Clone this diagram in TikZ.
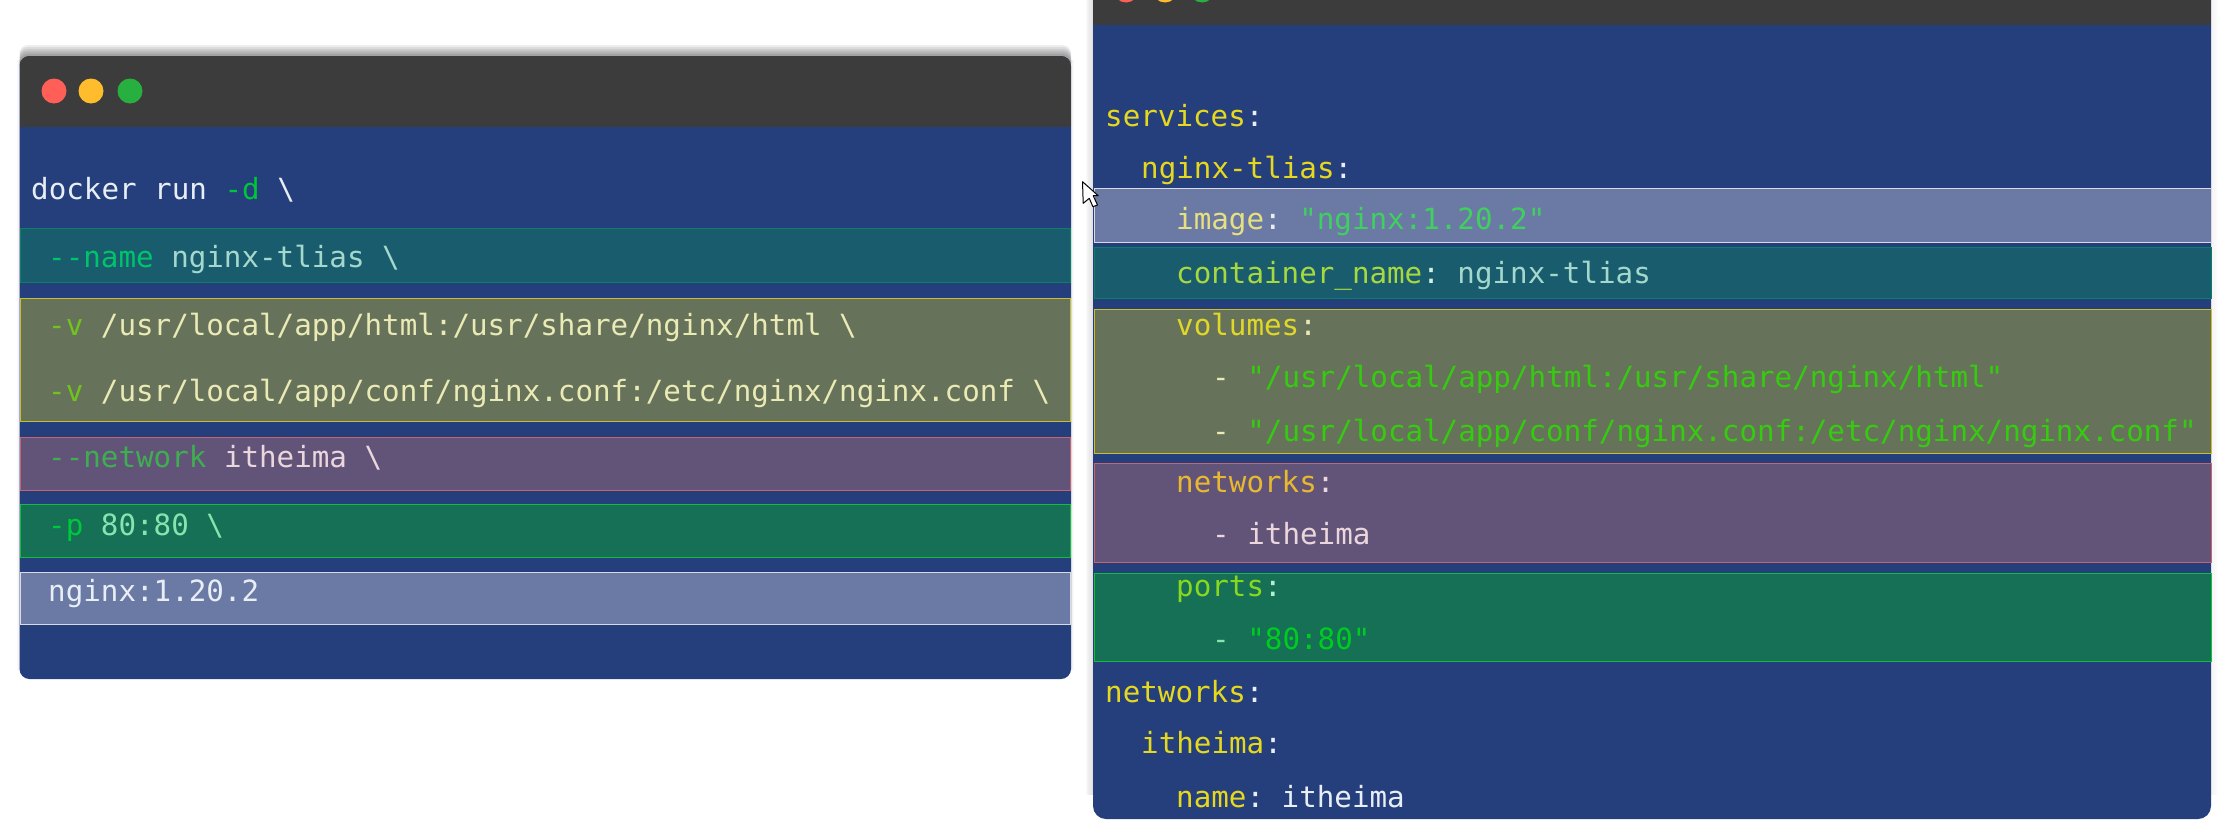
\documentclass[tikz,border=0pt]{standalone}
\usepackage{fontspec}
\setmonofont{DejaVu Sans Mono}
\usepackage{tikz}
\definecolor{navy}{HTML}{243F7C}
\definecolor{titlebar}{HTML}{3C3C3C}
\definecolor{dotred}{HTML}{FF5F56}
\definecolor{dotamber}{HTML}{FFBD2E}
\definecolor{dotgreen}{HTML}{27B03F}
\definecolor{colonwhite}{HTML}{E8EEF5}
\definecolor{tealedge}{HTML}{0A8064}
\definecolor{tealfill}{HTML}{195C6D}
\definecolor{yellowedge}{HTML}{C8BE2E}
\definecolor{yellowfill}{HTML}{67725A}
\definecolor{rededge}{HTML}{C9636F}
\definecolor{redfill}{HTML}{625478}
\definecolor{greenedge}{HTML}{12BE3C}
\definecolor{greenfill}{HTML}{157055}
\definecolor{whiteedge}{HTML}{D8DBE4}
\definecolor{whitefill}{HTML}{6B7AA5}
\tikzset{
    win/.style={fill=navy, rounded corners=10pt},
    bar/.style={rectangle, draw, line width=1.2pt, inner sep=0pt, anchor=north west},
    tealbar/.style={bar, draw=tealedge, fill=tealfill},
    yellowbar/.style={bar, draw=yellowedge, fill=yellowfill},
    redbar/.style={bar, draw=rededge, fill=redfill},
    greenbar/.style={bar, draw=greenedge, fill=greenfill},
    whitebar/.style={bar, draw=whiteedge, fill=whitefill},
    code/.style={anchor=base west, inner sep=0pt, yshift=-1.5pt, text=colonwhite, font=\ttfamily\fontsize{29.2}{32}\selectfont},
    dot/.style={circle, inner sep=0pt, minimum size=25pt}
}
\newcommand{\tc}[2]{\textcolor[HTML]{#1}{#2}}
\newcommand{\rowbar}[5]{\node[#1, minimum width=#3pt, minimum height=#5pt] (#2) at (#4) {};}
\begin{document}
\begin{tikzpicture}[x=1pt, y=-1pt]
    \useasboundingbox (0,0) rectangle (2223,819);
    \fill[white] (0,0) rectangle (2223,819);

    % soft shadows
    \foreach \g in {1,...,6} {
        \fill[black, opacity=0.07, rounded corners=8pt] (19.5,56-1.8*\g) rectangle (1071,72);
        \fill[black, opacity=0.012] (19.5-0.5*\g,60) rectangle (1071+0.5*\g,670);
        \fill[black, opacity=0.018] (1093-1.2*\g,-40) rectangle (1500,795);
        \fill[black, opacity=0.008] (1900,-40) rectangle (2211+1.2*\g,795);
    }

    % left window
    \path[win] (19.5,56) rectangle (1071,679);
    \begin{scope}
        \clip[rounded corners=10pt] (19.5,56) rectangle (1071,679);
        \fill[titlebar] (19.5,56) rectangle (1071,127);
    \end{scope}
    \node[dot, fill=dotred] (lred) at (54,91) {};
    \node[dot, fill=dotamber] (lamber) at (91,91) {};
    \node[dot, fill=dotgreen] (lgreen) at (130,91) {};
    \rowbar{tealbar}{lname}{1050.5}{19.5,228}{54}
    \rowbar{yellowbar}{lvol}{1050.5}{19.5,298}{123}
    \rowbar{redbar}{lnet}{1050.5}{19.5,437}{53}
    \rowbar{greenbar}{lport}{1050.5}{19.5,504}{53}
    \rowbar{whitebar}{limg}{1050.5}{19.5,572}{52}

    \node[code] (ldocker) at (31,198) {docker run \tc{00C43C}{-d} \textbackslash};
    \node[code] (lnametxt) at (48,266) {\tc{00C46A}{--name} \tc{A4D8CC}{nginx-tlias \textbackslash}};
    \node[code] (lvolone) at (48,334) {\tc{6FC41E}{-v} \tc{EAEAB4}{/usr/local/app/html:/usr/share/nginx/html \textbackslash}};
    \node[code] (lvoltwo) at (48,400) {\tc{6FC41E}{-v} \tc{EAEAB4}{/usr/local/app/conf/nginx.conf:/etc/nginx/nginx.conf \textbackslash}};
    \node[code] (lnettxt) at (48,466) {\tc{3FAE50}{--network} \tc{EAD6DC}{itheima \textbackslash}};
    \node[code] (lporttxt) at (48,534) {\tc{00C83C}{-p} \tc{86E4AE}{80:80 \textbackslash}};
    \node[code] (limgtxt) at (48,600) {nginx:1.20.2};

    % right window
    \path[win, rounded corners=13pt] (1093,-40) rectangle (2211,819);
    \fill[titlebar] (1093,-5) rectangle (2211,25);
    \node[dot, fill=dotred] (rred) at (1126,-10) {};
    \node[dot, fill=dotamber] (ramber) at (1165,-10) {};
    \node[dot, fill=dotgreen] (rgreen) at (1202,-10) {};
    \rowbar{whitebar}{rimg}{1117}{1093.5,188}{54}
    \rowbar{tealbar}{rname}{1117}{1093.5,247}{51}
    \rowbar{yellowbar}{rvol}{1117}{1093.5,309}{144}
    \rowbar{redbar}{rnet}{1117}{1093.5,463}{99}
    \rowbar{greenbar}{rport}{1117}{1093.5,573}{88}

    \node[code] (rservices) at (1105,125) {\tc{E6D81E}{services}:};
    \node[code] (rnginx) at (1141,177) {\tc{E6D81E}{nginx-tlias}:};
    \node[code] (rimgtxt) at (1176,228) {\tc{E6E080}{image}: \tc{3FD060}{"nginx:1.20.2"}};
    \node[code] (rnametxt) at (1176,282) {\tc{A8D840}{container\_name}\tc{D0F0E0}{:} \tc{A4D8CC}{nginx-tlias}};
    \node[code] (rvoltxt) at (1176,334) {\tc{E0D828}{volumes}\tc{EAEAB4}{:}};
    \node[code] (rvolone) at (1212,386) {\tc{EAEAB4}{-} \tc{35CC10}{"/usr/local/app/html:/usr/share/nginx/html"}};
    \node[code] (rvoltwo) at (1212,440) {\tc{EAEAB4}{-} \tc{35CC10}{"/usr/local/app/conf/nginx.conf:/etc/nginx/nginx.conf"}};
    \node[code] (rnettxt) at (1176,491) {\tc{E8B830}{networks}\tc{EAD6DC}{:}};
    \node[code] (ritem) at (1212,543) {\tc{EAD6DC}{- itheima}};
    \node[code] (rporttxt) at (1176,595) {\tc{88D820}{ports}\tc{B0F0D0}{:}};
    \node[code] (rportval) at (1212,648) {\tc{86E4AE}{-} \tc{00CC20}{"80:80"}};
    \node[code] (rnetworks) at (1105,701) {\tc{E6D81E}{networks}:};
    \node[code] (ritheima) at (1141,752) {\tc{E6D81E}{itheima}:};
    \node[code] (rnamekey) at (1176,806) {\tc{E6D81E}{name}: itheima};

    % mouse pointer
    \draw[fill=white, line width=1pt, line join=round] (1082.5,181.7) -- (1083.2,203.3) -- (1089.3,198.3) -- (1092.9,206.7) -- (1097.5,205) -- (1093.2,195.7) -- (1098.2,195.7) -- cycle;
\end{tikzpicture}
\end{document}
